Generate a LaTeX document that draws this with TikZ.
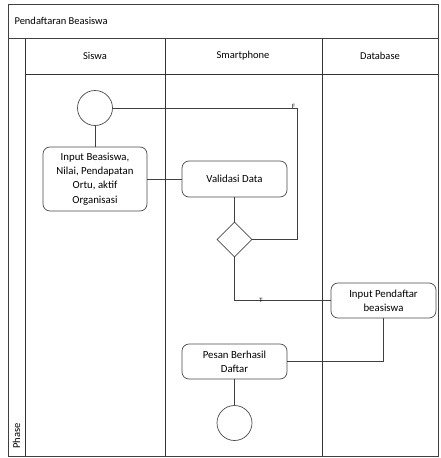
\documentclass[tikz,border=0pt]{standalone}
\usepackage{fontspec}
\setmainfont{Carlito}
\usetikzlibrary{shapes.geometric}
\begin{document}
\begin{tikzpicture}[x=1pt,y=-1pt,
  frame/.style={draw=black!75,line width=0.8pt},
  lane/.style={draw=black!80,line width=0.8pt},
  flow/.style={draw=black!75,line width=0.7pt},
  act/.style={draw=black!70,line width=0.7pt,rounded corners=7pt,align=center,
    font=\fontsize{10.8}{14.3}\selectfont,inner sep=0pt},
  term/.style={circle,draw=black!70,line width=0.7pt,minimum size=35pt,inner sep=0pt},
  decision/.style={diamond,draw=black!70,line width=0.7pt,minimum width=35pt,minimum height=35pt,inner sep=0pt},
  head/.style={font=\fontsize{10.5}{12}\selectfont},
  guard/.style={font=\fontsize{6.5}{7}\selectfont,inner sep=0.5pt}]
\useasboundingbox (0,0) rectangle (440,458);
\fill[white] (0,0) rectangle (440,458);
% pool frame, title band, header row, lanes
\draw[frame] (8,4) rectangle (438,456);
\draw[frame] (8,38) -- (438,38);
\draw[lane] (25,38) -- (25,456);
\draw[lane] (25,74) -- (438,74);
\draw[lane] (165,38) -- (165,456);
\draw[lane] (322,38) -- (322,456);
\node[head,anchor=west] (title) at (11,21) {Pendaftaran Beasiswa};
\node[head] (hs) at (95,56) {Siswa};
\node[head] (hp) at (243,56) {Smartphone};
\node[head] (hd) at (380,56) {Database};
\node[head,rotate=90,anchor=west] (phase) at (16.5,452) {Phase};
% activities
\node[term] (start) at (95,108) {};
\node[act,minimum width=104pt,minimum height=64pt] (input) at (95,179)
  {Input Beasiswa,\\Nilai, Pendapatan\\Ortu, aktif\\Organisasi};
\node[act,minimum width=105pt,minimum height=36pt] (valid) at (234.5,179) {Validasi Data};
\node[decision] (dec) at (234.5,239.5) {};
\node[act,minimum width=105pt,minimum height=35pt] (daftar) at (383.5,300.5) {Input Pendaftar\\beasiswa};
\node[act,minimum width=105pt,minimum height=35pt] (pesan) at (234.5,361.5) {Pesan Berhasil\\Daftar};
\node[term] (end) at (234.5,423) {};
\coordinate (fc) at (297,108);
\coordinate (tc) at (234.5,300.5);
\coordinate (dc) at (383.5,361.5);
% connectors
\draw[flow] (start) -- (input);
\draw[flow] (input) -- (valid);
\draw[flow] (valid) -- (dec);
\draw[flow] (dec.east) -| (fc) -- (start.east);
\draw[flow] (dec.south) -- (tc) -- (daftar.west);
\draw[flow] (daftar.south) -- (dc) -- (pesan.east);
\draw[flow] (pesan) -- (end);
\node[guard] (gf) at (293.5,106) {F};
\node[guard] (gt) at (261,300.5) {T};
\end{tikzpicture}
\end{document}
